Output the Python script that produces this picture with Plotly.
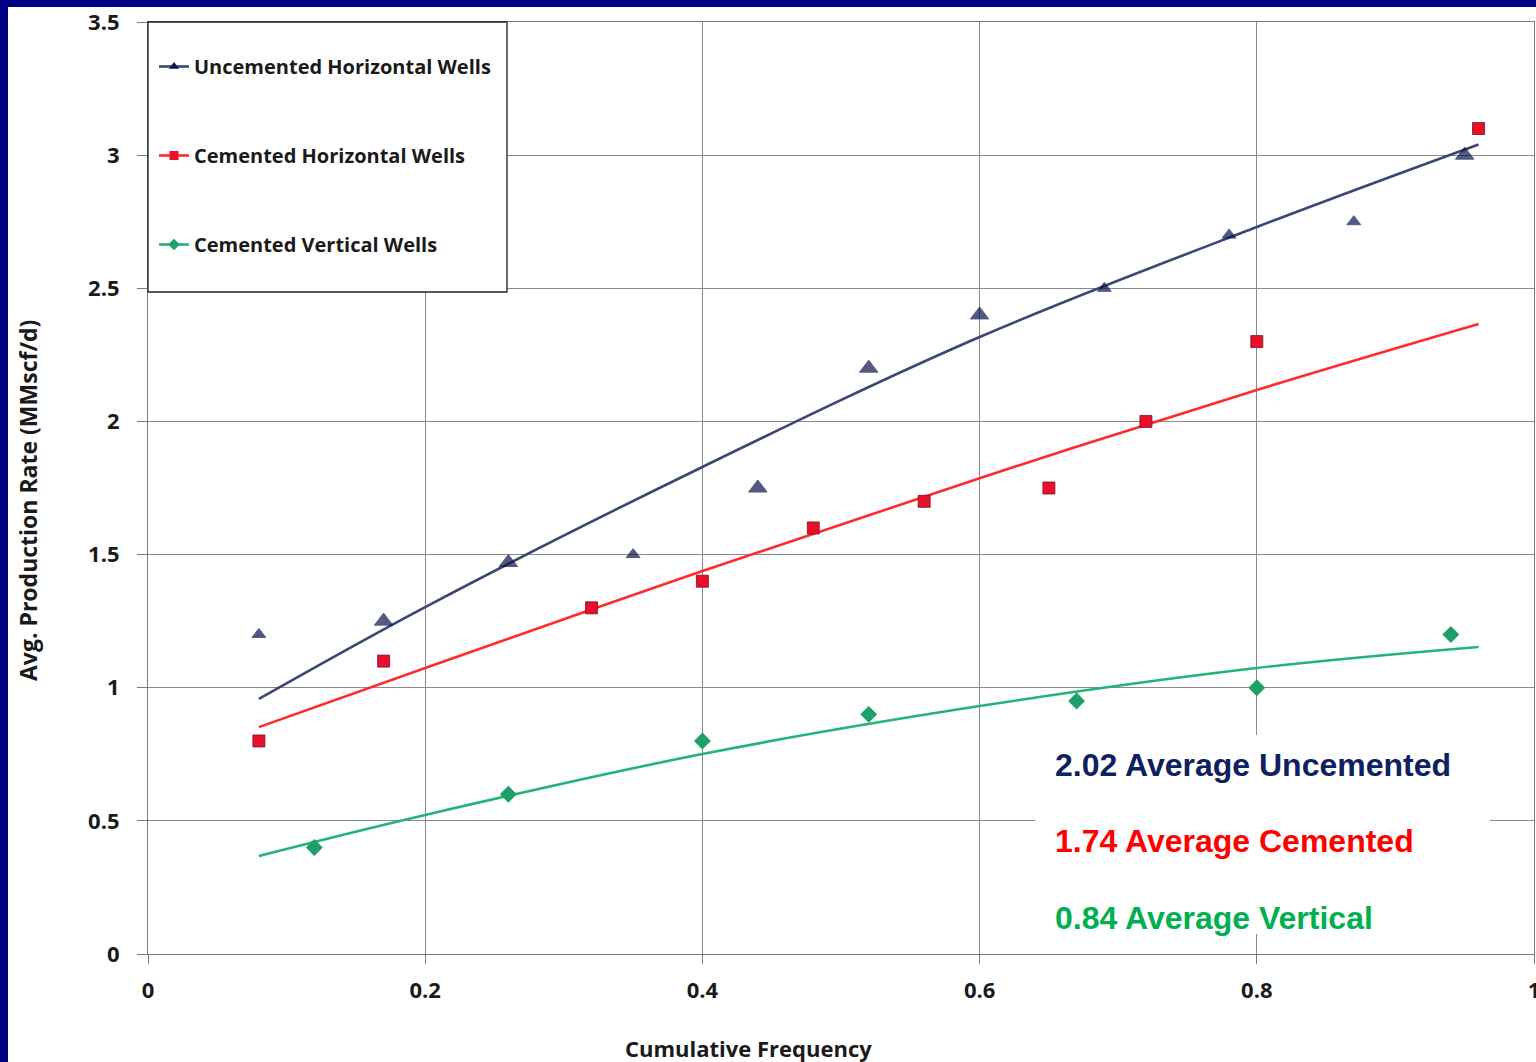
import plotly.graph_objects as go

# ---------------- data ----------------
unc_x = [0.08, 0.17, 0.26, 0.35, 0.44, 0.52, 0.60, 0.69, 0.78, 0.87, 0.95]
unc_y = [1.20, 1.25, 1.47, 1.50, 1.75, 2.20, 2.40, 2.50, 2.70, 2.75, 3.00]

cem_x = [0.08, 0.17, 0.32, 0.40, 0.48, 0.56, 0.65, 0.72, 0.80, 0.96]
cem_y = [0.80, 1.10, 1.30, 1.40, 1.60, 1.70, 1.75, 2.00, 2.30, 3.10]

ver_x = [0.12, 0.26, 0.40, 0.52, 0.67, 0.80, 0.94]
ver_y = [0.40, 0.60, 0.80, 0.90, 0.95, 1.00, 1.20]

# trend lines
trend_x = [0.08, 0.20, 0.40, 0.60, 0.80, 0.96]
unc_trend = [0.958, 1.303, 1.829, 2.317, 2.730, 3.040]
cem_trend = [0.852, 1.074, 1.438, 1.787, 2.118, 2.366]
ver_trend = [0.368, 0.522, 0.751, 0.931, 1.074, 1.153]

series_names = ["Uncemented Horizontal Wells", "Cemented Horizontal Wells", "Cemented Vertical Wells"]
avg_labels = ["2.02 Average Uncemented", "1.74 Average Cemented", "0.84 Average Vertical"]
avg_label_y = [0.710, 0.424, 0.135]

x_ticks = [0, 0.2, 0.4, 0.6, 0.8, 1]
x_tick_text = ["0", "0.2", "0.4", "0.6", "0.8", "1"]
y_ticks = [0, 0.5, 1, 1.5, 2, 2.5, 3, 3.5]
y_tick_text = ["0", "0.5", "1", "1.5", "2", "2.5", "3", "3.5"]

# ---------------- styles ----------------
W, H = 1536, 1062
ML, MR, MT, MB = 148, 2, 22, 108
PW, PH = W - ML - MR, H - MT - MB

NAVY_BG = "rgb(0,0,128)"
UNC_MK, UNC_LN = "#0B144D", "#3A4774"
CEM_MK, CEM_LN = "#E8102A", "#FF2B2B"
VER_MK, VER_LN = "#1F9F69", "#22B474"
GRID = "#8a8a8a"
TXT = "#1a1a1a"
unc_sizes = [12, 16, 16, 12, 16, 16, 16, 12, 12, 12, 16]

def px2paper_x(p):
    return (p - ML) / PW

def px2paper_y(p):
    return (H - MB - p) / PH

fig = go.Figure()

# trend lines
for ty, col in [(unc_trend, UNC_LN), (cem_trend, CEM_LN), (ver_trend, VER_LN)]:
    fig.add_trace(go.Scatter(x=trend_x, y=ty, mode="lines",
                             line=dict(color=col, width=2.6, shape="spline"),
                             showlegend=False, hoverinfo="skip"))

# markers
fig.add_trace(go.Scatter(x=unc_x, y=unc_y, mode="markers",
                         marker=dict(symbol="triangle-up", size=unc_sizes, color=UNC_MK,
                                     line=dict(color=UNC_MK, width=1)),
                         showlegend=False))
fig.add_trace(go.Scatter(x=cem_x, y=cem_y, mode="markers",
                         marker=dict(symbol="square", size=12, color=CEM_MK,
                                     line=dict(color="#7a1020", width=0.8)),
                         showlegend=False))
fig.add_trace(go.Scatter(x=ver_x, y=ver_y, mode="markers",
                         marker=dict(symbol="diamond", size=13, color=VER_MK),
                         showlegend=False))

# legend entries
leg_styles = [("triangle-up", UNC_MK, UNC_LN), ("square", CEM_MK, CEM_LN), ("diamond", VER_MK, VER_LN)]
for i, (name, (sym, mc, lc)) in enumerate(zip(series_names, leg_styles)):
    fig.add_trace(go.Scatter(x=[None], y=[None], mode="lines+markers", name=name,
                             legendgroup=f"g{i}",
                             line=dict(color=lc, width=2.6),
                             marker=dict(symbol=sym, size=9, color=mc)))

shapes = [
    # navy slide border strips
    dict(type="rect", xref="paper", yref="paper", x0=px2paper_x(-5), x1=px2paper_x(W + 5),
         y0=px2paper_y(7), y1=px2paper_y(-5), fillcolor=NAVY_BG, line=dict(width=0), layer="below"),
    dict(type="rect", xref="paper", yref="paper", x0=px2paper_x(-5), x1=px2paper_x(8),
         y0=px2paper_y(H + 5), y1=px2paper_y(-5), fillcolor=NAVY_BG, line=dict(width=0), layer="below"),
    # legend box
    dict(type="rect", xref="paper", yref="paper", x0=0, x1=px2paper_x(507),
         y0=px2paper_y(292), y1=1, fillcolor="white", line=dict(color="#222222", width=1.3), layer="above"),
    # white box behind averages
    dict(type="rect", xref="paper", yref="paper", x0=px2paper_x(1035), x1=px2paper_x(1490),
         y0=px2paper_y(934), y1=px2paper_y(735), fillcolor="white", line=dict(width=0), layer="above"),
]

annotations = []
for txt, yy, col in zip(avg_labels, avg_label_y, ["#0E2060", "#FF0000", "#00B050"]):
    annotations.append(dict(text=txt, xref="paper", yref="y", x=px2paper_x(1053), y=yy,
                            xanchor="left", yanchor="middle", showarrow=False,
                            font=dict(family="Liberation Sans, Arial", size=32, color=col, weight="bold")))
annotations.append(dict(text="Cumulative Frequency", xref="paper", yref="paper",
                        x=px2paper_x(748), y=px2paper_y(1048), xanchor="center", yanchor="middle",
                        showarrow=False,
                        font=dict(family="Open Sans", size=22, color=TXT, weight="bold")))
annotations.append(dict(text="Avg. Production Rate (MMscf/d)", xref="paper", yref="paper",
                        x=px2paper_x(28), y=px2paper_y(501), xanchor="center", yanchor="middle",
                        textangle=-90, showarrow=False,
                        font=dict(family="Open Sans", size=23, color=TXT, weight="bold")))

axis_common = dict(showgrid=True, gridcolor=GRID, gridwidth=1, zeroline=False,
                   showline=True, linecolor="#7a7a7a", linewidth=1.2, mirror=True,
                   ticks="outside", tickcolor="#7a7a7a", automargin=False,
                   tickfont=dict(family="Open Sans", size=22, color=TXT, weight="bold"))

fig.update_layout(
    width=W, height=H,
    margin=dict(l=ML, r=MR, t=MT, b=MB, autoexpand=False),
    paper_bgcolor="white", plot_bgcolor="white",
    xaxis=dict(range=[0, 1], tickvals=x_ticks, ticktext=x_tick_text, ticklen=9,
               ticklabelstandoff=7, ticklabeloverflow="allow", **axis_common),
    yaxis=dict(range=[0, 3.5], tickvals=y_ticks, ticktext=y_tick_text, ticklen=10,
               ticklabelstandoff=13, **axis_common),
    legend=dict(x=px2paper_x(154), y=px2paper_y(47), xanchor="left", yanchor="top",
                bgcolor="rgba(0,0,0,0)", borderwidth=0, tracegroupgap=60,
                font=dict(family="Open Sans", size=20, color=TXT, weight="bold"),
                itemwidth=30),
    shapes=shapes,
    annotations=annotations,
    showlegend=True,
)

fig.write_html("out.html", config={"displayModeBar": False},
               post_script="document.body.style.margin='0';document.body.style.padding='0';"
                           "document.documentElement.style.overflow='hidden';")
